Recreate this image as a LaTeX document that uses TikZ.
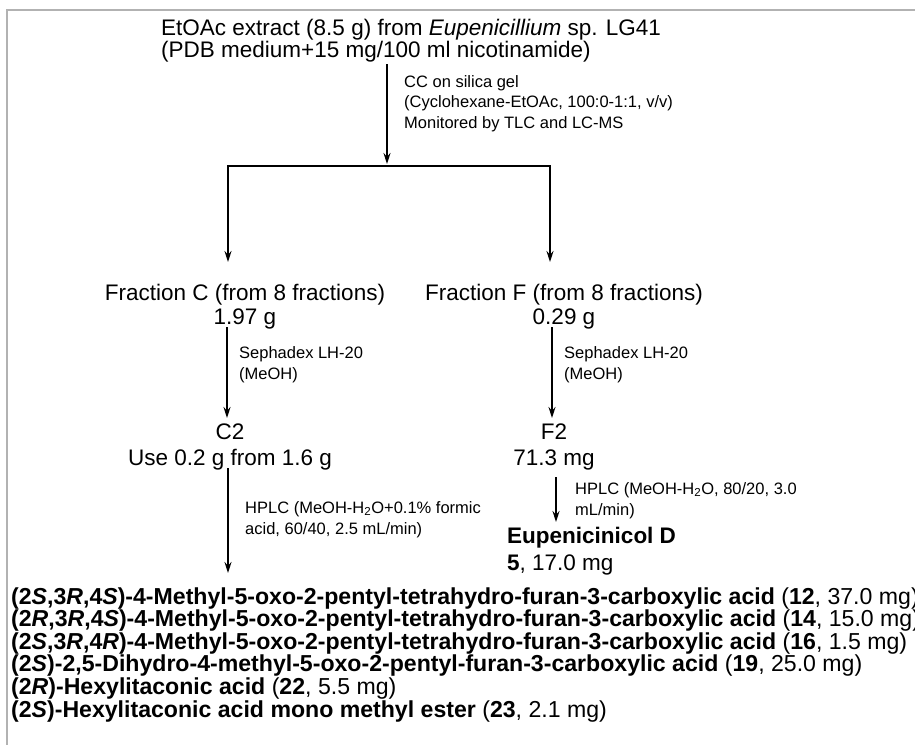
\documentclass[tikz,border=0pt]{standalone}
\usepackage{fontspec}
\setmainfont{Liberation Sans}
\usetikzlibrary{arrows.meta}
\newcommand\regtxt[1]{{\mdseries #1}}
\begin{document}
\begin{tikzpicture}[x=1pt,y=-1pt,
  big/.style={font=\fontsize{22.5}{22}\selectfont, inner sep=0pt},
  bigc/.style={font=\fontsize{22.5}{24}\selectfont, inner sep=0pt, anchor=base, align=center},
  bigd/.style={font=\fontsize{22.5}{26.5}\selectfont, inner sep=0pt},
  lab/.style={font=\fontsize{16.5}{20.7}\selectfont, inner sep=0pt, anchor=base west, align=left},
  cmpd/.style={font=\bfseries\fontsize{23.1}{22.6}\selectfont, inner sep=0pt, anchor=base west, align=left},
  arr/.style={line width=1.5pt, -{Stealth[length=11pt,width=7pt]}},
  arrtwo/.style={line width=1.5pt, {Stealth[length=11pt,width=7pt]}-{Stealth[length=11pt,width=7pt]}},
  framel/.style={draw=gray!60, line width=2pt}]
\useasboundingbox (0,0) rectangle (915,745);
\draw[framel] (915,10) -- (7,10) -- (7,745);

% base anchor of a multi-line node = baseline of its last line
\node[big, anchor=base west, align=left] (title) at (161,57)
  {EtOAc extract (8.5 g) from \textit{Eupenicillium} sp. LG41\\(PDB medium+15 mg/100 ml nicotinamide)};
\node[lab] (cc) at (404,128.4)
  {CC on silica gel\\(Cyclohexane-EtOAc, 100:0-1:1, v/v)\\Monitored by TLC and LC-MS};

\coordinate (a0) at (387,64);
\coordinate (j) at (387,164);
\coordinate (jl) at (228,166);
\coordinate (jr) at (550,166);
\coordinate (fcin) at (228,262);
\coordinate (ffin) at (550,262);
\draw[arr] (a0) -- (j);
\draw[arrtwo, line join=miter] (fcin) -- (jl) -- (jr) -- (ffin);

\node[bigc] (fc) at (245,324) {Fraction C (from 8 fractions)\\1.97 g};
\node[bigc] (ff) at (564,324) {Fraction F (from 8 fractions)\\0.29 g};

\coordinate (c1) at (227,327);
\coordinate (c1e) at (227,418);
\coordinate (f1) at (552,327);
\coordinate (f1e) at (552,418);
\draw[arr] (c1) -- (c1e);
\draw[arr] (f1) -- (f1e);
\node[lab] (sephc) at (239,379) {Sephadex LH-20\\(MeOH)};
\node[lab] (sephf) at (564,379) {Sephadex LH-20\\(MeOH)};

\node[bigd, anchor=base, align=center] (c2) at (230,465.5) {C2\\Use 0.2 g from 1.6 g};
\node[bigd, anchor=base, align=center] (f2) at (554,465.5) {F2\\71.3 mg};

\coordinate (c2s) at (228,468);
\coordinate (c2e) at (228,573);
\coordinate (f2s) at (556,477);
\coordinate (f2e) at (556,522);
\draw[arr] (c2s) -- (c2e);
\draw[arr] (f2s) -- (f2e);
\node[lab] (hplcc) at (245,534) {HPLC (MeOH-H\textsubscript{2}O+0.1\% formic\\acid, 60/40, 2.5 mL/min)};
\node[lab] (hplcf) at (575,515) {HPLC (MeOH-H\textsubscript{2}O, 80/20, 3.0\\mL/min)};

\node[bigd, anchor=base west, align=left] (eup) at (507,570) {\textbf{Eupenicinicol D}\\\textbf{5}, 17.0 mg};

\node[cmpd] (cmpds) at (11,717) {%
(2\textit{S},3\textit{R},4\textit{S})-4-Methyl-5-oxo-2-pentyl-tetrahydro-furan-3-carboxylic acid \regtxt{(}12\regtxt{, 37.0 mg)}\\
(2\textit{R},3\textit{R},4\textit{S})-4-Methyl-5-oxo-2-pentyl-tetrahydro-furan-3-carboxylic acid \regtxt{(}14\regtxt{, 15.0 mg)}\\
(2\textit{S},3\textit{R},4\textit{R})-4-Methyl-5-oxo-2-pentyl-tetrahydro-furan-3-carboxylic acid \regtxt{(}16\regtxt{, 1.5 mg)}\\
(2\textit{S})-2,5-Dihydro-4-methyl-5-oxo-2-pentyl-furan-3-carboxylic acid \regtxt{(}19\regtxt{, 25.0 mg)}\\
(2\textit{R})-Hexylitaconic acid \regtxt{(}22\regtxt{, 5.5 mg)}\\
(2\textit{S})-Hexylitaconic acid mono methyl ester \regtxt{(}23\regtxt{, 2.1 mg)}};
\end{tikzpicture}
\end{document}
